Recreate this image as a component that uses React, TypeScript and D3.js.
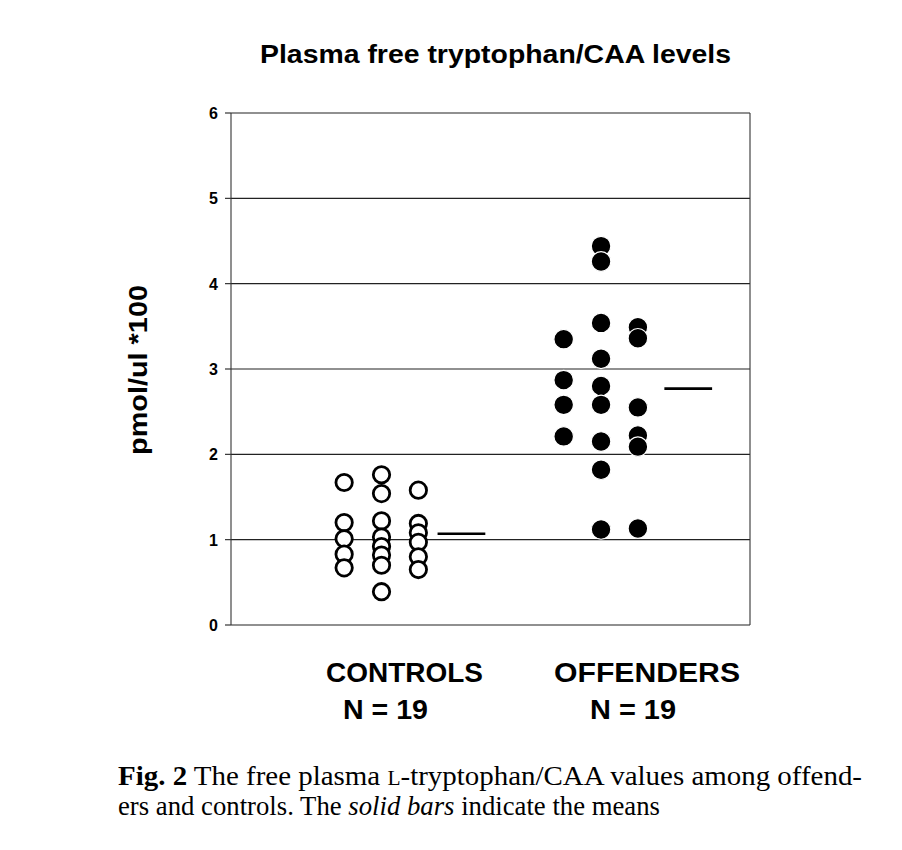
import React from "react";
import * as d3 from "d3";

const title = "Plasma free tryptophan/CAA levels";
const yLabel = "pmol/ul *100";
const yTicks = [0, 1, 2, 3, 4, 5, 6];
const groups = ["CONTROLS", "OFFENDERS"];
const groupN = ["N = 19", "N = 19"];

const controlsCol1 = [1.67, 1.2, 1.01, 0.83, 0.67];
const controlsCol2 = [1.76, 1.54, 1.22, 1.03, 0.92, 0.82, 0.7, 0.39];
const controlsCol3 = [1.58, 1.19, 1.08, 0.97, 0.8, 0.65];
const offendersCol1 = [3.35, 2.87, 2.58, 2.21];
const offendersCol2 = [4.44, 4.26, 3.54, 3.12, 2.8, 2.58, 2.15, 1.82, 1.12];
const offendersCol3 = [3.49, 3.36, 2.55, 2.22, 2.09, 1.13];
const means = [1.07, 2.77];

const W = 902;
const H = 850;
const left = 231;
const right = 750;
const top = 113;
const bottom = 625;

export default function App() {
  const y = d3.scaleLinear().domain([0, 6]).range([bottom, top]);
  const x = d3.scaleLinear().domain([0, 10]).range([left, right]);
  const colPos = [
    [2.18, 2.9, 3.61],
    [6.41, 7.13, 7.84],
  ];
  const meanPos = [
    [3.98, 4.9],
    [8.35, 9.27],
  ];
  const controls = [controlsCol1, controlsCol2, controlsCol3];
  const offenders = [offendersCol1, offendersCol2, offendersCol3];
  const font = "'Liberation Sans', Arial, sans-serif";
  const serif = "'Liberation Serif', 'Times New Roman', serif";

  return (
    <svg
      width={W}
      height={H}
      style={{ position: "absolute", left: 0, top: 0, background: "#fff" }}
    >
      <rect x={0} y={0} width={W} height={H} fill="#fff" />
      <text
        x={260}
        y={63}
        fontFamily={font}
        fontWeight="bold"
        fontSize={26}
        textLength={471}
        lengthAdjust="spacingAndGlyphs"
      >
        {title}
      </text>
      {yTicks.map((t) => (
        <line
          key={"g" + t}
          x1={left}
          x2={right}
          y1={y(t)}
          y2={y(t)}
          stroke="#222"
          strokeWidth={1.1}
        />
      ))}
      {yTicks.map((t) => (
        <line
          key={"t" + t}
          x1={left - 6}
          x2={left}
          y1={y(t)}
          y2={y(t)}
          stroke="#222"
          strokeWidth={1.1}
        />
      ))}
      <line x1={left} x2={left} y1={top} y2={bottom} stroke="#333" strokeWidth={1.1} />
      <line x1={right} x2={right} y1={top} y2={bottom} stroke="#333" strokeWidth={1.1} />
      {yTicks.map((t) => (
        <text
          key={"l" + t}
          x={218}
          y={y(t) + 6}
          textAnchor="end"
          fontFamily={font}
          fontWeight="bold"
          fontSize={16}
        >
          {t}
        </text>
      ))}
      <text
        transform={`translate(147, 370) rotate(-90)`}
        textAnchor="middle"
        fontFamily={font}
        fontWeight="bold"
        fontSize={26}
        textLength={170}
        lengthAdjust="spacingAndGlyphs"
      >
        {yLabel}
      </text>
      {controls.map((col, ci) =>
        col.map((v, i) => (
          <circle
            key={`c${ci}-${i}`}
            cx={x(colPos[0][ci])}
            cy={y(v)}
            r={8.2}
            fill="#fff"
            stroke="#000"
            strokeWidth={2.8}
          />
        ))
      )}
      {offenders.map((col, ci) =>
        col.map((v, i) => (
          <circle
            key={`o${ci}-${i}`}
            cx={x(colPos[1][ci])}
            cy={y(v)}
            r={9.8}
            fill="#000"
            stroke="#fff"
            strokeWidth={1.2}
          />
        ))
      )}
      {means.map((m, i) => (
        <line
          key={"m" + i}
          x1={x(meanPos[i][0])}
          x2={x(meanPos[i][1])}
          y1={y(m)}
          y2={y(m)}
          stroke="#000"
          strokeWidth={2.6}
        />
      ))}
      <text x={326} y={682} fontFamily={font} fontWeight="bold" fontSize={27} textLength={157} lengthAdjust="spacingAndGlyphs">
        {groups[0]}
      </text>
      <text x={343} y={719} fontFamily={font} fontWeight="bold" fontSize={27} textLength={85} lengthAdjust="spacingAndGlyphs">
        {groupN[0]}
      </text>
      <text x={554} y={682} fontFamily={font} fontWeight="bold" fontSize={27} textLength={186} lengthAdjust="spacingAndGlyphs">
        {groups[1]}
      </text>
      <text x={590} y={719} fontFamily={font} fontWeight="bold" fontSize={27} textLength={86} lengthAdjust="spacingAndGlyphs">
        {groupN[1]}
      </text>
      <text
        x={118}
        y={785}
        fontFamily={serif}
        fontSize={27}
        textLength={744}
        lengthAdjust="spacingAndGlyphs"
      >
        <tspan fontWeight="bold">Fig. 2</tspan>
        <tspan>  The free plasma </tspan>
        <tspan fontSize={20}>L</tspan>
        <tspan>-tryptophan/CAA values among offend-</tspan>
      </text>
      <text
        x={118}
        y={815}
        fontFamily={serif}
        fontSize={27}
        textLength={542}
        lengthAdjust="spacingAndGlyphs"
      >
        <tspan>ers and controls. The </tspan>
        <tspan fontStyle="italic">solid bars</tspan>
        <tspan> indicate the means</tspan>
      </text>
    </svg>
  );
}
